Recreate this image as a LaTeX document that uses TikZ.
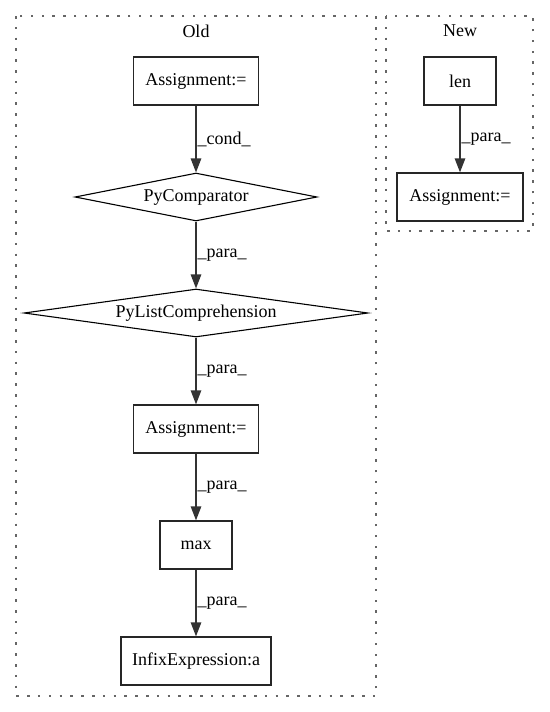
\documentclass[tikz,border=0pt]{standalone}
\usepackage{fontspec}
\setmainfont{Liberation Serif}
\usetikzlibrary{shapes.geometric,arrows.meta}
\begin{document}
\begin{tikzpicture}[x=1pt,y=-1pt,
  lbl/.style={font=\fontsize{18}{20}\selectfont},
  box/.style={lbl,draw=black!85,line width=1.3pt,rectangle,minimum height=48pt,inner sep=0pt},
  dia/.style={lbl,draw=black,line width=1.1pt,diamond,inner sep=0pt,minimum height=48pt},
  edge/.style={draw=black!80,line width=1.3pt,-{Triangle[length=14pt,width=10.5pt]}},
  elabel/.style={lbl,anchor=west,inner sep=0pt,xshift=1pt},
  cluster/.style={draw=black!60,line width=1.3pt,dash pattern=on 2.5pt off 8.3pt}]
\useasboundingbox (0,0) rectangle (549,712);
\draw[cluster] (16,16) rectangle (376,696);
\draw[cluster] (386,16) rectangle (533,231);
\node[lbl] (oldt) at (196,31) {Old};
\node[lbl] (newt) at (460,31) {New};
\node[box,minimum width=125pt] (a1) at (196,81) {Assignment:=};
\node[dia,minimum width=242pt] (pc) at (196,197) {\makebox[0pt]{PyComparator}};
\node[dia,minimum width=344pt] (plc) at (196,313) {\makebox[0pt]{PyListComprehension}};
\node[box,minimum width=125pt] (a2) at (196,429) {Assignment:=};
\node[box,minimum width=72pt] (mx) at (196,545) {max};
\node[box,minimum width=150pt] (ie) at (196,661) {InfixExpression:a};
\node[box,minimum width=72pt] (ln) at (460,81) {len};
\node[box,minimum width=126pt] (a3) at (460,197) {Assignment:=};
\draw[edge] (a1) -- node[elabel] {\_cond\_} (pc);
\draw[edge] (pc) -- node[elabel] {\_para\_} (plc);
\draw[edge] (plc) -- node[elabel] {\_para\_} (a2);
\draw[edge] (a2) -- node[elabel] {\_para\_} (mx);
\draw[edge] (mx) -- node[elabel] {\_para\_} (ie);
\draw[edge] (ln) -- node[elabel] {\_para\_} (a3);
\end{tikzpicture}
\end{document}
